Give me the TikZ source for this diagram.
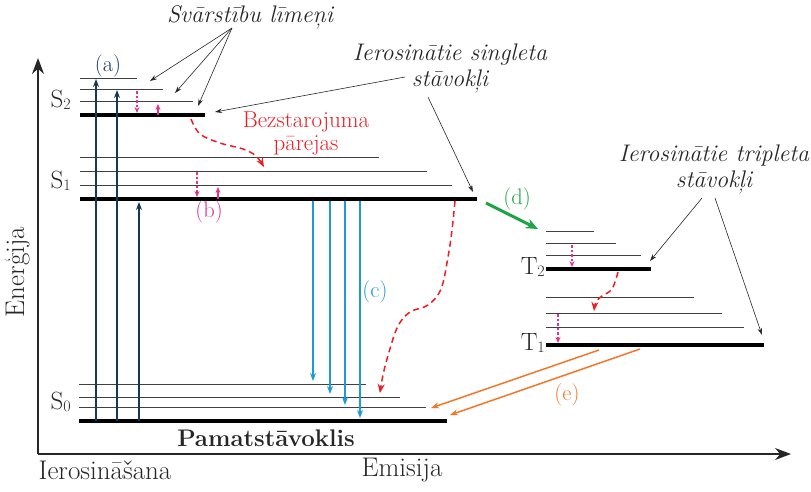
\documentclass[tikz,border=0pt]{standalone}
\usepackage{fontspec}
\usetikzlibrary{arrows.meta}
\definecolor{navy}{RGB}{18,58,85}
\definecolor{alabel}{RGB}{25,62,100}
\definecolor{vibc}{RGB}{222,50,140}
\definecolor{nrc}{RGB}{236,30,36}
\definecolor{emc}{RGB}{30,155,210}
\definecolor{iscc}{RGB}{30,165,70}
\definecolor{phc}{RGB}{240,120,40}
\newcommand\lvlname[2]{#1\raisebox{-0.1em}{\fontsize{16}{16}\selectfont #2}}
\tikzset{
  axisline/.style={draw=black!85, line width=1.6pt, -{Stealth[length=16pt,width=12pt]}},
  lvlthin/.style={draw=black!75, line width=0.9pt},
  lvlthick/.style={draw=black, line width=3.6pt},
  excite/.style={draw=navy, line width=1.5pt, -{Stealth[length=8pt,width=6pt]}},
  emit/.style={draw=emc, line width=1.5pt, -{Stealth[length=8pt,width=6pt]}},
  vib/.style={draw=vibc, line width=1.1pt, dash pattern=on 2.5pt off 2pt, -{Stealth[length=6pt,width=5pt]}},
  vibup/.style={draw=vibc, line width=1.1pt, -{Stealth[length=6pt,width=5pt]}},
  nonrad/.style={draw=nrc, line width=1.5pt, dash pattern=on 6pt off 4pt, -{Stealth[length=9pt,width=7pt]}},
  annot/.style={draw=black!85, line width=0.6pt, -{Stealth[length=7pt,width=4.5pt]}},
  isc/.style={draw=iscc, line width=3pt, -{Stealth[length=12pt,width=10pt]}},
  phos/.style={draw=phc, line width=1.5pt, -{Stealth[length=8pt,width=6pt]}},
  ital/.style={font=\fontsize{24}{26}\selectfont\itshape, text=black!85, align=center, inner sep=0pt},
  proc/.style={font=\fontsize{22.5}{24}\selectfont, inner sep=0pt},
  big/.style={font=\fontsize{27}{30}\selectfont, text=black!85, inner sep=0pt},
  lvlfont/.style={font=\fontsize{25}{28}\selectfont, text=black!85, inner sep=0pt},
}
\begin{document}
\begin{tikzpicture}[x=1pt,y=-1pt]
\useasboundingbox (0,0) rectangle (811,491);

% axes
\coordinate (O) at (38,454);
\coordinate (Ytop) at (38,58);
\coordinate (Xend) at (791,454);
\draw[axisline] (O) -- (Ytop);
\draw[axisline] (O) -- (Xend);
\node[big, rotate=90] (energy) at (17,272) {Enerģija};
\node[big] (exc) at (105,470) {Ierosināšana};
\node[big] (emis) at (402,470) {Emisija};

% S2 levels
\draw[lvlthin] (80,78) -- (137,78);
\draw[lvlthin] (80,89) -- (163,89);
\draw[lvlthin] (80,101) -- (193,101);
\draw[lvlthick] (80,115) -- (205,115);
% S1 levels
\draw[lvlthin] (80,157) -- (379,157);
\draw[lvlthin] (80,171) -- (427,171);
\draw[lvlthin] (80,185) -- (452,185);
\draw[lvlthick] (80,199) -- (477,199);
% S0 levels
\draw[lvlthin] (79,384) -- (366,384);
\draw[lvlthin] (79,397) -- (400,397);
\draw[lvlthin] (79,407) -- (426,407);
\draw[lvlthick] (79,421) -- (447,421);
% T2 levels
\draw[lvlthin] (546,231) -- (594,231);
\draw[lvlthin] (546,243) -- (616,243);
\draw[lvlthin] (546,255) -- (641,255);
\draw[lvlthick] (546,269) -- (651,269);
% T1 levels
\draw[lvlthin] (546,297) -- (694,297);
\draw[lvlthin] (546,313) -- (722,313);
\draw[lvlthin] (546,327) -- (744,327);
\draw[lvlthick] (546,345) -- (764,345);

% level names
\node[lvlfont, anchor=east] (S2) at (71,100) {\lvlname{S}{2}};
\node[lvlfont, anchor=east] (S1) at (71,181) {\lvlname{S}{1}};
\node[lvlfont, anchor=east] (S0) at (71,402) {\lvlname{S}{0}};
\node[lvlfont, anchor=east] (T2) at (545,267) {\lvlname{T}{2}};
\node[lvlfont, anchor=east] (T1) at (545,343) {\lvlname{T}{1}};
\node[font=\fontsize{24}{26}\selectfont\bfseries, text=black!85, inner sep=0pt] (ground) at (266,438) {Pamatstāvoklis};

% excitation (a)
\coordinate (ea0) at (96,421);  \coordinate (ea1) at (96,79);
\coordinate (eb0) at (117,421); \coordinate (eb1) at (117,90);
\coordinate (ec0) at (139,421); \coordinate (ec1) at (139,202);
\draw[excite] (ea0) -- (ea1);
\draw[excite] (eb0) -- (eb1);
\draw[excite] (ec0) -- (ec1);
\node[proc, text=alabel] (la) at (108,66) {(a)};

% vibrational relaxation (b)
\coordinate (v1a) at (137,91);  \coordinate (v1b) at (137,113);
\coordinate (v2a) at (158,115); \coordinate (v2b) at (158,104);
\coordinate (v3a) at (197,172); \coordinate (v3b) at (197,197);
\coordinate (v4a) at (218,199); \coordinate (v4b) at (218,187);
\coordinate (v5a) at (572,245); \coordinate (v5b) at (572,267);
\coordinate (v6a) at (558,314); \coordinate (v6b) at (558,343);
\draw[vib] (v1a) -- (v1b);
\draw[vibup] (v2a) -- (v2b);
\draw[vib] (v3a) -- (v3b);
\draw[vibup] (v4a) -- (v4b);
\draw[vib] (v5a) -- (v5b);
\draw[vib] (v6a) -- (v6b);
\node[proc, text=vibc] (lb) at (209,212) {(b)};

% emission (c)
\coordinate (f1a) at (313,201); \coordinate (f1b) at (313,381);
\coordinate (f2a) at (330,201); \coordinate (f2b) at (330,394);
\coordinate (f3a) at (345,201); \coordinate (f3b) at (345,405);
\coordinate (f4a) at (360,201); \coordinate (f4b) at (360,418);
\draw[emit] (f1a) -- (f1b);
\draw[emit] (f2a) -- (f2b);
\draw[emit] (f3a) -- (f3b);
\draw[emit] (f4a) -- (f4b);
\node[proc, text=emc] (lc) at (375,292) {(c)};

% non-radiative transitions
\draw[nonrad] plot[smooth, tension=0.6] coordinates {(191,119) (200,134) (220,143) (243,149) (256,156) (264,167)};
\draw[nonrad] plot[smooth, tension=0.6] coordinates {(455,201) (452,230) (448,257) (441,289) (428,305) (410,312) (398,326) (389,352) (383,375) (380,393)};
\draw[nonrad] plot[smooth, tension=0.6] coordinates {(618,272) (612,289) (602,296) (596,302) (594,311)};
\node[proc, text=nrc, font=\fontsize{23}{25}\selectfont] (nr1) at (306,122) {Bezstarojuma};
\node[proc, text=nrc, font=\fontsize{23}{25}\selectfont] (nr2) at (306,145) {pārejas};

% intersystem crossing (d)
\coordinate (d0) at (486,203);
\coordinate (d1) at (538,229);
\draw[isc] (d0) -- (d1);
\node[proc, text=iscc] (ld) at (517,199) {(d)};

% phosphorescence (e)
\coordinate (p1a) at (599,350); \coordinate (p1b) at (431,408);
\coordinate (p2a) at (640,349); \coordinate (p2b) at (450,415);
\draw[phos] (p1a) -- (p1b);
\draw[phos] (p2a) -- (p2b);
\node[proc, text=phc] (le) at (567,395) {(e)};

% annotations
\node[ital] (vibl) at (250,17) {Svārstību līmeņi};
\coordinate (vs) at (232,28);
\coordinate (vt1) at (150,81);
\coordinate (vt2) at (175,93);
\coordinate (vt3) at (198,106);
\draw[annot] (vs) -- (vt1);
\draw[annot] (vs) -- (vt2);
\draw[annot] (vs) -- (vt3);

\node[ital] (singl) at (450,69) {Ierosinātie singleta\\stāvokļi};
\coordinate (ss1) at (405,77);  \coordinate (st1) at (215,112);
\coordinate (ss2) at (428,97);  \coordinate (st2) at (473,192);
\draw[annot] (ss1) -- (st1);
\draw[annot] (ss2) -- (st2);

\node[ital] (tripl) at (714,170) {Ierosinātie tripleta\\stāvokļi};
\coordinate (ts1) at (702,198); \coordinate (tt1) at (650,261);
\coordinate (ts2) at (715,198); \coordinate (tt2) at (762,335);
\draw[annot] (ts1) -- (tt1);
\draw[annot] (ts2) -- (tt2);
\end{tikzpicture}
\end{document}
